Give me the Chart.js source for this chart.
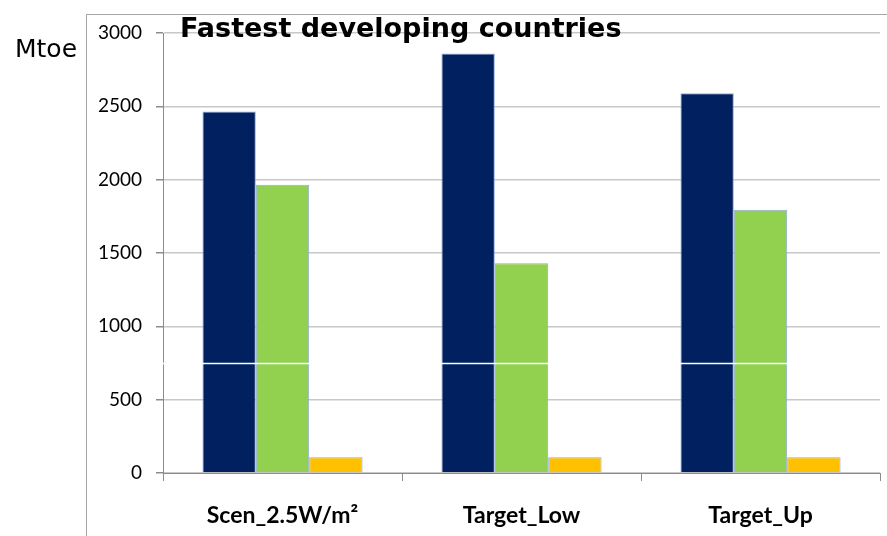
<!DOCTYPE html>
<html>
<head>
<meta charset="utf-8">
<script src="https://cdn.jsdelivr.net/npm/chart.js@4/dist/chart.umd.min.js"></script>
<style>
  html, body { margin: 0; padding: 0; background: #fff; }
  #wrap { width: 887px; height: 536px; position: relative; }
</style>
</head>
<body>
<div id="wrap"><canvas id="c" width="887" height="536"></canvas></div>
<script>
// Scenarios on the category axis
const categories = ['Scen_2.5W/m²', 'Target_Low', 'Target_Up'];

// Three series per scenario (Mtoe)
const seriesDark   = [2465, 2860, 2590];
const seriesGreen  = [1965, 1430, 1795];
const seriesOrange = [108, 108, 108];

// Y axis range and tick step
const yMin = 0, yMax = 3000, yStep = 500;

const chartTitle = 'Fastest developing countries';
const unitLabel = 'Mtoe';

// White separator line value across the plot
const separatorValue = 750;

const framePlugin = {
  id: 'frame',
  beforeDraw(chart) {
    const ctx = chart.ctx;
    ctx.save();
    ctx.fillStyle = '#fff';
    ctx.fillRect(0, 0, chart.width, chart.height);
    ctx.strokeStyle = '#a6a6a6';
    ctx.lineWidth = 1;
    ctx.strokeRect(86.5, 14.5, chart.width + 10, chart.height + 10);
    ctx.restore();
  },
  afterDraw(chart) {
    const ctx = chart.ctx;
    const y = Math.round(chart.scales.y.getPixelForValue(separatorValue)) + 0.5;
    ctx.save();
    ctx.strokeStyle = '#fff';
    ctx.lineWidth = 1.5;
    ctx.beginPath();
    ctx.moveTo(chart.chartArea.left - 4, y);
    ctx.lineTo(chart.chartArea.right, y);
    ctx.stroke();

    ctx.fillStyle = '#000';
    ctx.font = 'bold 27px "DejaVu Sans"';
    ctx.textBaseline = 'alphabetic';
    ctx.textAlign = 'left';
    ctx.fillText(chartTitle, 180, 37);

    ctx.font = '25px "DejaVu Sans"';
    ctx.fillText(unitLabel, 15, 57);
    ctx.restore();
  }
};

new Chart(document.getElementById('c'), {
  type: 'bar',
  data: {
    labels: categories,
    datasets: [
      { data: seriesDark, backgroundColor: '#002060', borderColor: '#8eaadb', borderWidth: 1 },
      { data: seriesGreen, backgroundColor: '#92d050', borderColor: '#8eaadb', borderWidth: 1 },
      { data: seriesOrange, backgroundColor: '#ffc000', borderColor: '#8eaadb', borderWidth: 1 }
    ]
  },
  options: {
    responsive: false,
    animation: false,
    devicePixelRatio: 1,
    layout: { padding: { top: 33, right: 7, left: 0, bottom: 0 } },
    plugins: { legend: { display: false }, title: { display: false }, tooltip: { enabled: false } },
    datasets: { bar: { categoryPercentage: 0.67, barPercentage: 1.0 } },
    scales: {
      x: {
        afterFit(scale) { scale.height = 63; },
        grid: { offset: true, drawOnChartArea: false, tickLength: 8, color: '#8c8c8c' },
        border: { color: '#8c8c8c', width: 1 },
        ticks: { color: '#000', padding: 21, font: { family: 'Lato', weight: 'bold', size: 23 } }
      },
      y: {
        min: yMin, max: yMax,
        afterFit(scale) { scale.width = 163; },
        grid: { color: '#c8c8c8', lineWidth: 1.5, tickLength: 7, tickColor: '#8c8c8c' },
        border: { color: '#8c8c8c', width: 1 },
        ticks: {
          stepSize: yStep, color: '#000', padding: 14,
          font: { family: 'Lato', size: 19 },
          callback: (v) => String(v)
        }
      }
    }
  },
  plugins: [framePlugin]
});
</script>
</body>
</html>
